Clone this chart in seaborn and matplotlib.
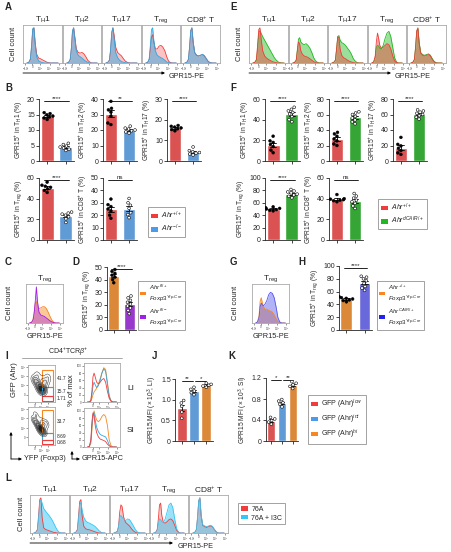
import matplotlib
matplotlib.use("Agg")
import matplotlib.pyplot as plt
from matplotlib.patches import Patch, Rectangle
import numpy as np
import pandas as pd
import seaborn as sns

sns.set_style("ticks")
plt.rcParams["font.family"] = ["Liberation Sans", "DejaVu Sans"]
plt.rcParams["mathtext.fontset"] = "custom"
plt.rcParams["mathtext.rm"] = "Liberation Sans"
plt.rcParams["mathtext.it"] = "Liberation Sans:italic"
plt.rcParams["mathtext.bf"] = "Liberation Sans:bold"
plt.rcParams["axes.linewidth"] = 0.6

W, H = 452, 552

RED = "#F23B3B"
BLUE = "#4C9BEA"
HBLUE = "#2EA7E0"
GREEN = "#22B822"
ORANGE = "#F7871E"
PURPLE = "#A11FE6"
VIOLET = "#5656EE"
CYAN = "#34C6F4"
FRAME = "#AAAAAA"

# ---------------------------------------------------------------------------
# Data
# ---------------------------------------------------------------------------
CELLS = ["TH1", "TH2", "TH17", "Treg", "CD8"]
CELL_TITLES = [r"T$_{\rm H}$1", r"T$_{\rm H}$2", r"T$_{\rm H}$17",
               r"T$_{\rm reg}$", r"CD8$^{+}$ T"]

# histogram grid (fraction of the log axis) and tick marks
HIST_X = [0.10, 0.15, 0.19, 0.22, 0.25, 0.28, 0.31, 0.35, 0.40, 0.45,
          0.50, 0.55, 0.60, 0.65, 0.70, 0.75, 0.80, 0.85, 0.90]
HIST_TICKS = [0.06, 0.24, 0.43, 0.68, 0.93]
HIST_TICK_LABELS = [r"$-10^3$", "0", r"$10^3$", r"$10^4$", r"$10^5$"]

# A: Ahr+/+ (red) vs Ahr-/- (blue), % of max
A_WT = {
    "TH1":  [0, 2, 10, 45, 95, 100, 60, 25, 14, 12, 9, 6, 3, 1, 0, 0, 0, 0, 0],
    "TH2":  [0, 2, 10, 40, 90, 100, 75, 40, 30, 28, 30, 26, 18, 8, 3, 0, 0, 0, 0],
    "TH17": [0, 2, 8, 35, 85, 100, 80, 45, 30, 25, 20, 12, 5, 2, 0, 0, 0, 0, 0],
    "Treg": [0, 2, 10, 40, 75, 80, 60, 40, 40, 48, 50, 45, 35, 18, 5, 1, 0, 0, 0],
    "CD8":  [0, 2, 10, 45, 92, 100, 60, 30, 22, 20, 22, 24, 20, 12, 4, 1, 0, 0, 0],
}
A_KO = {
    "TH1":  [0, 2, 12, 50, 98, 100, 55, 18, 6, 3, 1, 0, 0, 0, 0, 0, 0, 0, 0],
    "TH2":  [0, 2, 10, 42, 92, 100, 70, 35, 22, 18, 14, 9, 5, 2, 0, 0, 0, 0, 0],
    "TH17": [0, 2, 8, 38, 88, 100, 70, 30, 15, 8, 4, 2, 1, 0, 0, 0, 0, 0, 0],
    "Treg": [0, 2, 12, 50, 95, 100, 65, 35, 22, 18, 15, 12, 8, 3, 1, 0, 0, 0, 0],
    "CD8":  [0, 2, 10, 45, 92, 100, 62, 30, 22, 20, 22, 25, 21, 12, 4, 1, 0, 0, 0],
}

# E: Ahr+/+ (red) vs AhrdCAIR/+ (green)
E_WT = {
    "TH1":  [0, 2, 10, 50, 95, 100, 70, 35, 20, 14, 10, 7, 4, 2, 1, 0, 0, 0, 0],
    "TH2":  [0, 2, 8, 35, 60, 55, 35, 25, 20, 18, 16, 12, 8, 4, 1, 0, 0, 0, 0],
    "TH17": [0, 2, 8, 40, 75, 72, 40, 22, 15, 12, 8, 5, 3, 1, 0, 0, 0, 0, 0],
    "Treg": [0, 3, 20, 60, 85, 70, 50, 42, 45, 50, 55, 52, 40, 20, 6, 1, 0, 0, 0],
    "CD8":  [0, 2, 10, 45, 92, 100, 58, 28, 22, 20, 22, 24, 20, 10, 3, 0, 0, 0, 0],
}
E_CA = {
    "TH1":  [0, 2, 8, 40, 85, 92, 85, 75, 65, 55, 45, 35, 25, 15, 8, 3, 1, 0, 0],
    "TH2":  [0, 2, 8, 38, 68, 72, 60, 55, 52, 55, 50, 42, 30, 15, 6, 2, 0, 0, 0],
    "TH17": [0, 2, 8, 40, 75, 78, 65, 58, 55, 50, 42, 35, 25, 12, 5, 1, 0, 0, 0],
    "Treg": [0, 3, 15, 45, 50, 48, 42, 40, 50, 70, 85, 90, 75, 45, 15, 3, 0, 0, 0],
    "CD8":  [0, 2, 10, 45, 90, 98, 60, 30, 24, 22, 24, 26, 22, 12, 4, 1, 0, 0, 0],
}

# L: 76A (red) vs 76A + I3C (cyan)
L_76A = {
    "TH1":  [0, 2, 10, 50, 95, 100, 45, 15, 10, 8, 6, 4, 2, 1, 0, 0, 0, 0, 0],
    "TH2":  [0, 2, 10, 50, 90, 95, 50, 20, 12, 10, 9, 7, 5, 3, 1, 0, 0, 0, 0],
    "TH17": [0, 2, 5, 20, 60, 80, 75, 45, 30, 25, 20, 12, 6, 2, 0, 0, 0, 0, 0],
    "Treg": [0, 2, 10, 40, 80, 85, 50, 30, 28, 32, 38, 40, 35, 22, 8, 2, 0, 0, 0],
    "CD8":  [0, 2, 10, 45, 92, 100, 50, 22, 18, 16, 18, 20, 18, 10, 3, 0, 0, 0, 0],
}
L_I3C = {
    "TH1":  [0, 2, 8, 40, 85, 95, 85, 70, 62, 55, 48, 40, 30, 18, 8, 2, 0, 0, 0],
    "TH2":  [0, 2, 8, 40, 80, 88, 65, 45, 35, 30, 28, 25, 22, 18, 12, 6, 2, 0, 0],
    "TH17": [0, 2, 5, 18, 45, 50, 45, 40, 35, 40, 38, 30, 20, 10, 3, 1, 0, 0, 0],
    "Treg": [0, 2, 8, 25, 40, 38, 32, 30, 40, 60, 80, 85, 72, 40, 12, 3, 0, 0, 0],
    "CD8":  [0, 2, 10, 45, 92, 100, 52, 24, 20, 18, 20, 22, 19, 10, 3, 0, 0, 0, 0],
}

# C / G: Treg histograms
C_FL_WT = [0, 2, 10, 30, 55, 60, 50, 40, 42, 45, 45, 40, 30, 18, 8, 2, 0, 0, 0]
C_FL_KO = [0, 2, 8, 25, 60, 100, 60, 30, 22, 20, 18, 14, 10, 6, 3, 1, 0, 0, 0]
G_WT = [0, 3, 20, 60, 70, 55, 45, 38, 38, 35, 33, 30, 22, 12, 4, 1, 0, 0, 0]
G_CA = [0, 3, 15, 45, 55, 50, 48, 52, 62, 78, 85, 82, 70, 45, 15, 3, 0, 0, 0]

# I: GPR15-APC histograms per GFP (Ahr) gate
I_LI_LOW = [0, 0, 5, 30, 70, 80, 70, 55, 50, 55, 62, 65, 55, 30, 10, 2, 0, 0, 0]
I_LI_INT = [0, 0, 3, 20, 45, 55, 48, 40, 45, 60, 80, 92, 85, 50, 15, 3, 0, 0, 0]
I_LI_HI = [0, 0, 2, 10, 20, 28, 32, 38, 50, 65, 82, 95, 90, 55, 18, 4, 0, 0, 0]
I_SI_LOW = [0, 2, 20, 70, 95, 85, 60, 40, 28, 22, 20, 18, 15, 8, 3, 0, 0, 0, 0]
I_SI_INT = [0, 2, 15, 60, 90, 95, 75, 55, 42, 35, 32, 30, 28, 18, 6, 1, 0, 0, 0]
I_SI_HI = [0, 2, 10, 45, 85, 100, 88, 75, 70, 75, 85, 90, 85, 60, 20, 4, 0, 0, 0]

# I: contour-plot density anchors (YFP x, GFP y)
LI_DOT_X = [0.22, 0.28, 0.33, 0.38, 0.42, 0.46, 0.50, 0.53, 0.56, 0.58,
            0.48, 0.40, 0.62, 0.68, 0.74, 0.35, 0.55, 0.52, 0.50]
LI_DOT_Y = [0.62, 0.58, 0.52, 0.48, 0.44, 0.40, 0.37, 0.35, 0.33, 0.31,
            0.30, 0.38, 0.45, 0.55, 0.66, 0.72, 0.60, 0.34, 0.36]
SI_DOT_X = [0.22, 0.28, 0.33, 0.38, 0.42, 0.46, 0.50, 0.53, 0.56, 0.58,
            0.48, 0.40, 0.62, 0.68, 0.30, 0.52, 0.50, 0.48]
SI_DOT_Y = [0.66, 0.62, 0.56, 0.52, 0.48, 0.45, 0.42, 0.40, 0.38, 0.36,
            0.34, 0.42, 0.50, 0.58, 0.78, 0.62, 0.40, 0.42]
GATE_X = (0.52, 0.93)
LI_GATES_Y = [(0.41, 0.86), (0.16, 0.41), (0.02, 0.16)]
SI_GATES_Y = [(0.32, 0.92), (0.13, 0.32), (0.02, 0.13)]
LI_PCT = ["41.7", "15.7", "1.71"]
SI_PCT = ["33.7", "8.69", "0.68"]

# B: % GPR15+ , Ahr+/+ vs Ahr-/-
B_TH1_WT = [13.4, 13.9, 14.2, 14.5, 14.9, 15.3, 15.6]
B_TH1_KO = [3.4, 3.8, 4.2, 4.5, 4.8, 5.3, 5.7]
B_TH2_WT = [23.5, 24.5, 29.0, 31.5, 33.0, 34.0, 38.5]
B_TH2_KO = [18.0, 18.8, 19.5, 20.0, 20.6, 21.2, 22.5]
B_TH17_WT = [14.6, 15.2, 15.6, 16.0, 16.4, 16.8, 17.2]
B_TH17_KO = [2.9, 3.4, 3.8, 4.1, 4.5, 5.0, 6.8]
B_TREG_WT = [46.0, 48.0, 49.5, 51.0, 52.0, 53.0, 56.0]
B_TREG_KO = [17.0, 20.5, 22.5, 24.0, 25.0, 26.0, 27.0]
B_CD8_WT = [17.5, 20.0, 23.5, 25.0, 27.0, 28.5, 33.0]
B_CD8_KO = [18.0, 20.5, 22.0, 25.5, 28.0, 30.0, 33.5]

# F: % GPR15+ , Ahr+/+ vs AhrdCAIR/+
F_TH1_WT = [8.0, 10.5, 14.0, 16.0, 18.0, 19.5, 24.0]
F_TH1_KO = [38.0, 40.0, 43.0, 45.5, 47.0, 48.5, 50.0, 52.0]
F_TH2_WT = [20.0, 22.0, 26.0, 28.5, 32.0, 35.0, 37.0]
F_TH2_KO = [48.0, 50.5, 53.0, 55.5, 57.5, 60.0, 62.0, 63.5]
F_TH17_WT = [8.5, 10.5, 13.5, 16.5, 19.5, 21.5, 30.5]
F_TH17_KO = [54.0, 56.5, 58.5, 60.0, 61.5, 63.0, 64.5, 66.0]
F_TREG_WT = [47.0, 48.0, 49.0, 50.0, 51.0, 52.0, 53.5]
F_TREG_KO = [68.0, 70.5, 72.5, 74.0, 76.0, 77.5, 79.0, 81.5]
F_CD8_WT = [37.0, 38.0, 38.5, 39.0, 39.5, 40.0, 44.0]
F_CD8_KO = [30.5, 33.0, 35.5, 37.0, 38.5, 40.5, 42.5, 45.0]

# D / H: % GPR15+ in Treg
D_WT = [37.5, 40.0, 42.0, 43.5, 45.0, 46.5, 48.0]
D_KO = [13.0, 15.5, 17.5, 19.0, 20.5, 22.0, 23.5, 25.5, 27.0]
H_WT = [44.0, 46.0, 47.0, 48.5, 49.5, 50.5, 52.0]
H_KO = [62.0, 65.5, 68.0, 73.0, 77.0, 80.0, 82.5, 84.0]

# J / K: GPR15 MFI (x10^3) per GFP (Ahr) gate
J_LOW = [0.55, 0.70, 0.84, 0.92, 0.98]
J_INT = [1.12, 1.17, 1.21, 1.25, 1.30]
J_HI = [1.30, 1.33, 1.35, 1.37, 1.40]
K_LOW = [0.32, 0.36, 0.39, 0.42, 0.45]
K_INT = [0.65, 0.70, 0.73, 0.76, 0.79]
K_HI = [1.00, 1.04, 1.07, 1.10, 1.13]

# ---------------------------------------------------------------------------
# Helpers (pixel layout, origin top-left)
# ---------------------------------------------------------------------------
fig = plt.figure(figsize=(W / 100, H / 100), dpi=100)

ov = fig.add_axes([0, 0, 1, 1])
ov.set_xlim(0, W)
ov.set_ylim(H, 0)
ov.axis("off")


def px_ax(x0, y0, x1, y1):
    return fig.add_axes([x0 / W, 1 - y1 / H, (x1 - x0) / W, (y1 - y0) / H])


def arrow(x0, y0, x1, y1):
    ov.annotate("", xy=(x1, y1), xytext=(x0, y0),
                arrowprops=dict(arrowstyle="-|>", lw=0.6, color="k",
                                mutation_scale=4, shrinkA=0, shrinkB=0))


def frame_box(ax, ylabels=False):
    for s in ax.spines.values():
        s.set_color(FRAME)
        s.set_linewidth(0.6)
    ax.set_xlim(0, 1)
    ax.set_xticks(HIST_TICKS)
    ax.set_xticklabels(HIST_TICK_LABELS, fontsize=2.0)
    ax.tick_params(axis="x", length=1.2, width=0.4, pad=0.4, colors="#444")
    if not ylabels:
        ax.set_yticks([])
    ax.set_xlabel("")
    ax.set_ylabel("")


def hist(ax, curves, ymax=108):
    for vals, color, alpha in curves:
        if alpha > 0:
            ax.fill_between(HIST_X, vals, color=color, alpha=alpha, lw=0)
        sns.lineplot(x=HIST_X, y=vals, color=color, lw=0.6, ax=ax)
    ax.set_ylim(0, ymax)


def hist_row(lefts, right_edges, y0, y1, first, second, c1, c2, a1, a2):
    for i, cell in enumerate(CELLS):
        ax = px_ax(lefts[i], y0, right_edges[i], y1)
        hist(ax, [(first[cell], c1, a1), (second[cell], c2, a2)])
        frame_box(ax)
        ax.set_title(CELL_TITLES[i], fontsize=6, pad=1.5)


def bar_panel(ax, groups, values, colors, pt_colors, ylim, yticks, ylabel,
              width=0.7, sig=None):
    df = pd.DataFrame({
        "g": [g for g, v in zip(groups, values) for _ in v],
        "v": [x for v in values for x in v],
    })
    sns.barplot(data=df, x="g", y="v", hue="g", order=groups, hue_order=groups,
                palette=dict(zip(groups, colors)), errorbar="se", capsize=0.35,
                err_kws={"linewidth": 0.6, "color": "black"}, width=width,
                legend=False, ax=ax)
    sns.swarmplot(data=df, x="g", y="v", hue="g", order=groups,
                  hue_order=groups, palette=dict(zip(groups, pt_colors)),
                  size=2.0, edgecolor="black", linewidth=0.4, legend=False,
                  ax=ax)
    ax.set_ylim(*ylim)
    ax.set_yticks(yticks)
    ax.set_xticklabels([])
    ax.set_xlabel("")
    ax.set_ylabel(ylabel, fontsize=4.8, labelpad=1.5)
    ax.tick_params(axis="both", labelsize=5, length=2, width=0.6, pad=1)
    sns.despine(ax=ax)
    if sig:
        for x1, x2, y, txt in sig:
            ax.plot([x1, x2], [y, y], color="k", lw=0.6, clip_on=False)
            ax.text((x1 + x2) / 2, y, txt, ha="center", va="bottom",
                    fontsize=4.5, clip_on=False)


def legend_at(x0, y0, colors, labels, fs=5, spacing=0.3, pad=0.4):
    handles = [Patch(facecolor=c, edgecolor="none") for c in colors]
    lg = fig.legend(handles, labels, loc="upper left",
                    bbox_to_anchor=(x0 / W, 1 - y0 / H), frameon=True,
                    fancybox=False, edgecolor="#777777", fontsize=fs,
                    handlelength=1.0, handleheight=0.6, borderpad=pad,
                    labelspacing=spacing, handletextpad=0.5,
                    borderaxespad=0)
    lg.get_frame().set_linewidth(0.6)
    return lg


def ylab_pct(cell):
    names = {"TH1": r"T$_{\rm H}$1", "TH2": r"T$_{\rm H}$2",
             "TH17": r"T$_{\rm H}$17", "Treg": r"T$_{\rm reg}$",
             "CD8": r"CD8$^{+}$ T"}
    return r"GPR15$^{+}$ in " + names[cell] + " (%)"


# ---------------------------------------------------------------------------
# Panel letters and shared annotations
# ---------------------------------------------------------------------------
for letter, x, y in [("A", 5, 7), ("B", 5, 88), ("C", 5, 262), ("D", 72, 262),
                     ("E", 230, 7), ("F", 230, 88), ("G", 230, 262),
                     ("H", 298, 262), ("I", 5, 356), ("J", 152, 356),
                     ("K", 228, 356), ("L", 5, 478)]:
    ov.text(x, y, letter, fontsize=7, fontweight="bold", ha="left", va="center")

HIST_LEFTS = [23, 63, 102, 142, 181]
HIST_RIGHTS = [62, 101, 141, 180, 220]

# A
hist_row(HIST_LEFTS, HIST_RIGHTS, 25, 63, A_WT, A_KO, RED, HBLUE, 0.3, 0.5)
ov.text(14, 44, "Cell count", rotation=90, fontsize=5.5, ha="center", va="center")
arrow(23, 73, 165, 73)
ov.text(169, 76, "GPR15-PE", fontsize=5.2, ha="left", va="center")

# E
hist_row([x + 226 for x in HIST_LEFTS], [x + 226 for x in HIST_RIGHTS], 25, 63,
         E_CA, E_WT, GREEN, RED, 0.45, 0.45)
ov.text(240, 44, "Cell count", rotation=90, fontsize=5.5, ha="center", va="center")
arrow(249, 73, 391, 73)
ov.text(395, 76, "GPR15-PE", fontsize=5.2, ha="left", va="center")

# L
L_LEFTS = [30, 70, 110, 150, 189]
L_RIGHTS = [69, 109, 149, 188, 228]
hist_row(L_LEFTS, L_RIGHTS, 495, 533, L_76A, L_I3C, RED, CYAN, 0.3, 0.5)
ov.text(22, 514, "Cell count", rotation=90, fontsize=5.5, ha="center", va="center")
arrow(30, 543, 173, 543)
ov.text(178, 546, "GPR15-PE", fontsize=5.2, ha="left", va="center")
legend_at(238, 503, [RED, CYAN], ["76A", "76A + I3C"], spacing=0.25)

# B / F
B_SETS = [("TH1", B_TH1_WT, B_TH1_KO, (0, 20), [0, 5, 10, 15, 20], "****"),
          ("TH2", B_TH2_WT, B_TH2_KO, (0, 40), [0, 10, 20, 30, 40], "**"),
          ("TH17", B_TH17_WT, B_TH17_KO, (0, 30), [0, 10, 20, 30], "****"),
          ("Treg", B_TREG_WT, B_TREG_KO, (0, 60), [0, 20, 40, 60], "****"),
          ("CD8", B_CD8_WT, B_CD8_KO, (0, 50), [0, 10, 20, 30, 40, 50], "ns")]
F_SETS = [("TH1", F_TH1_WT, F_TH1_KO, (0, 60), [0, 20, 40, 60], "****"),
          ("TH2", F_TH2_WT, F_TH2_KO, (0, 80), [0, 20, 40, 60, 80], "****"),
          ("TH17", F_TH17_WT, F_TH17_KO, (0, 80), [0, 20, 40, 60, 80], "****"),
          ("Treg", F_TREG_WT, F_TREG_KO, (0, 100), [0, 20, 40, 60, 80, 100], "****"),
          ("CD8", F_CD8_WT, F_CD8_KO, (0, 60), [0, 20, 40, 60], "ns")]
BAR_RECTS = [(39, 99, 74, 161), (103, 99, 137, 161), (167, 99, 201, 161),
             (39, 178, 74, 240), (103, 178, 137, 240)]

for (cell, wt, ko, ylim, ticks, star), (x0, y0, x1, y1) in zip(B_SETS, BAR_RECTS):
    ax = px_ax(x0, y0, x1, y1)
    bar_panel(ax, ["WT", "KO"], [wt, ko], [RED, BLUE], ["black", "white"],
              ylim, ticks, ylab_pct(cell),
              sig=[(-0.15, 1.15, ylim[1] * 0.97, star)])
legend_at(148, 207, [RED, BLUE],
          [r"$\mathit{Ahr}^{+/+}$", r"$\mathit{Ahr}^{-/-}$"])

for (cell, wt, ko, ylim, ticks, star), (x0, y0, x1, y1) in zip(F_SETS, BAR_RECTS):
    ax = px_ax(x0 + 226, y0, x1 + 226, y1)
    bar_panel(ax, ["WT", "CA"], [wt, ko], [RED, GREEN], ["black", "white"],
              ylim, ticks, ylab_pct(cell),
              sig=[(-0.15, 1.15, ylim[1] * 0.97, star)])
legend_at(378, 199, [RED, GREEN],
          [r"$\mathit{Ahr}^{+/+}$", r"$\mathit{Ahr}^{dCAIR/+}$"])

# C
ax = px_ax(26, 284, 63, 323)
hist(ax, [(C_FL_WT, ORANGE, 0.45), (C_FL_KO, PURPLE, 0.4)])
frame_box(ax)
ax.set_title(r"T$_{\rm reg}$", fontsize=6, pad=1.5)
ov.text(10, 303, "Cell count", rotation=90, fontsize=5.5, ha="center", va="center")
ov.text(45, 336, "GPR15-PE", fontsize=5.3, ha="center", va="center")

# G
ax = px_ax(252, 284, 289, 323)
hist(ax, [(G_WT, ORANGE, 0.5), (G_CA, VIOLET, 0.45)])
frame_box(ax)
ax.set_title(r"T$_{\rm reg}$", fontsize=6, pad=1.5)
ov.text(236, 303, "Cell count", rotation=90, fontsize=5.5, ha="center", va="center")
ov.text(271, 336, "GPR15-PE", fontsize=5.3, ha="center", va="center")

# D
ax = px_ax(107, 267, 136, 330)
bar_panel(ax, ["fl+", "fl-"], [D_WT, D_KO], [ORANGE, PURPLE], ["black", "white"],
          (0, 50), [0, 10, 20, 30, 40, 50], ylab_pct("Treg"),
          sig=[(-0.15, 1.15, 48.5, "****")])
legend_at(138, 281, [ORANGE, PURPLE],
          [r"$\mathit{Ahr}^{fl/+}$" + "\n" + r"$\mathit{Foxp3}^{Yfp\text{-}Cre}$",
           r"$\mathit{Ahr}^{fl/-}$" + "\n" + r"$\mathit{Foxp3}^{Yfp\text{-}Cre}$"],
          fs=4.4, spacing=0.45, pad=0.35)

# H
ax = px_ax(339, 266, 372, 330)
bar_panel(ax, ["WT", "CA"], [H_WT, H_KO], [ORANGE, VIOLET], ["black", "white"],
          (0, 100), [0, 20, 40, 60, 80, 100], ylab_pct("Treg"), width=0.65,
          sig=[(-0.15, 1.15, 97, "****")])
legend_at(377, 281, [ORANGE, "#2222EE"],
          [r"$\mathit{Ahr}^{+/+}$" + "\n" + r"$\mathit{Foxp3}^{Yfp\text{-}Cre}$",
           r"$\mathit{Ahr}^{CAIR/+}$" + "\n" + r"$\mathit{Foxp3}^{Yfp\text{-}Cre}$"],
          fs=4.4, spacing=0.45, pad=0.35)

# I
ov.text(68, 352, r"CD4$^{+}$TCR$\beta^{+}$", fontsize=5, ha="center", va="center")
ov.plot([22, 122], [358, 358], color="#999999", lw=0.6)

for (y0, y1, dx, dy, gates, pct) in [(365, 402, LI_DOT_X, LI_DOT_Y, LI_GATES_Y, LI_PCT),
                                     (407, 445, SI_DOT_X, SI_DOT_Y, SI_GATES_Y, SI_PCT)]:
    ax = px_ax(28, y0, 55, y1)
    sns.kdeplot(x=dx, y=dy, fill=True, cmap="Greys", levels=8, thresh=0.06,
                bw_adjust=0.95, ax=ax)
    sns.kdeplot(x=dx, y=dy, color="#222222", levels=8, thresh=0.06,
                bw_adjust=0.95, linewidths=0.3, ax=ax)
    for (g0, g1), col, txt in zip(gates, [ORANGE, HBLUE, RED], pct):
        ax.add_patch(Rectangle((GATE_X[0], g0), GATE_X[1] - GATE_X[0], g1 - g0,
                               fill=False, edgecolor=col, lw=0.8))
        ax.text(1.06, (g0 + g1) / 2, txt, fontsize=3.5, ha="left",
                va="center", clip_on=False)
    ax.set_xlim(0, 1)
    ax.set_ylim(0, 1)
    for s in ax.spines.values():
        s.set_color(FRAME)
        s.set_linewidth(0.6)
    ax.set_xticks([0.25, 0.5, 0.75])
    ax.set_yticks([0.2, 0.45, 0.7, 0.95])
    ax.set_xticklabels(["0", r"$10^3$", r"$10^4$"], fontsize=2.0)
    ax.set_yticklabels(["0", r"$10^3$", r"$10^4$", r"$10^5$"], fontsize=2.0)
    ax.tick_params(length=1.2, width=0.4, pad=0.4, colors="#444")
    ax.set_xlabel("")
    ax.set_ylabel("")

for (y0, y1, curves, tag, ty) in [(363, 402, [I_LI_HI, I_LI_INT, I_LI_LOW], "LI", 388),
                                  (408, 447, [I_SI_HI, I_SI_INT, I_SI_LOW], "SI", 430)]:
    ax = px_ax(84, y0, 120, y1)
    hist(ax, [(c, col, 0) for c, col in zip(curves, [ORANGE, HBLUE, RED])])
    frame_box(ax, ylabels=True)
    ax.set_xticks(HIST_TICKS[1:])
    ax.set_xticklabels(HIST_TICK_LABELS[1:], fontsize=2.0)
    ax.set_yticks([0, 20, 40, 60, 80, 100])
    ax.set_yticklabels(["0", "20", "40", "60", "80", "100"], fontsize=2.0)
    ax.tick_params(axis="y", length=1.2, width=0.4, pad=0.4, colors="#444")
    ov.text(127, ty, tag, fontsize=6, ha="left", va="center")

ov.text(15, 380, "GFP (Ahr)", rotation=90, fontsize=5.5, ha="center", va="center")
ov.text(72, 390, "% of max", rotation=90, fontsize=5.5, ha="center", va="center")
arrow(11, 459, 11, 432)
arrow(11, 459, 22, 459)
ov.text(24, 459, "YFP (Foxp3)", fontsize=5.3, ha="left", va="center")
arrow(72, 459, 72, 451)
arrow(72, 459, 80, 459)
ov.text(82, 459, "GPR15-APC", fontsize=5.3, ha="left", va="center")

# J
ax = px_ax(175, 379, 213, 441)
bar_panel(ax, ["low", "int", "hi"], [J_LOW, J_INT, J_HI], [RED, BLUE, ORANGE],
          ["white", "white", "white"], (0, 1.5), [0, 0.5, 1.0, 1.5],
          r"GPR15 MFI ($\times$ 10$^3$, LI)", width=0.82,
          sig=[(0, 0.9, 1.45, "**"), (1.1, 2, 1.45, "*")])
ax.set_yticklabels(["0", "0.5", "1.0", "1.5"])

# K
ax = px_ax(266, 378, 298, 441)
bar_panel(ax, ["low", "int", "hi"], [K_LOW, K_INT, K_HI], [RED, BLUE, ORANGE],
          ["white", "white", "white"], (0, 1.2), [0, 0.4, 0.8, 1.2],
          r"GPR15 MFI ($\times$ 10$^3$, SI)", width=0.72,
          sig=[(0, 0.9, 1.17, "*"), (1.1, 2, 1.17, "**")])
ax.set_yticklabels(["0", "0.4", "0.8", "1.2"])
legend_at(308, 395, [RED, BLUE, ORANGE],
          [r"GFP (Ahr)$^{low}$", r"GFP (Ahr)$^{int}$", r"GFP (Ahr)$^{hi}$"],
          fs=5, spacing=0.25)

fig.savefig("out.png", dpi=100)
